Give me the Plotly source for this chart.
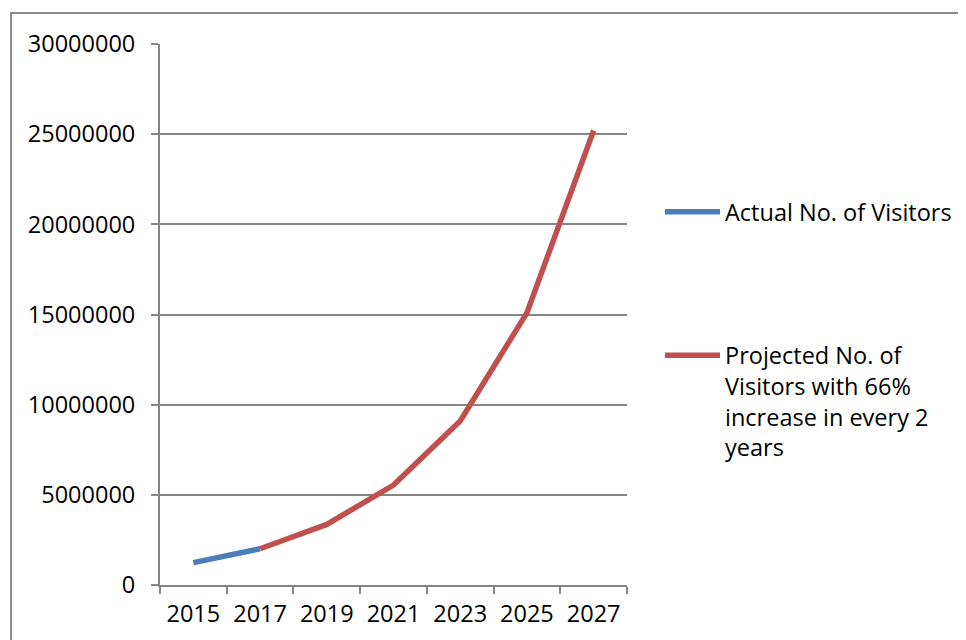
import plotly.graph_objects as go

years = ["2015", "2017", "2019", "2021", "2023", "2025", "2027"]
actual = [1240000, 2010000, None, None, None, None, None]
projected = [None, 2010000, 3360000, 5540000, 9100000, 15100000, 25200000]
y_ticks = [0, 5000000, 10000000, 15000000, 20000000, 25000000, 30000000]

name_actual = "Actual No. of Visitors"
name_proj = "Projected No. of<br>Visitors with 66%<br>increase in every 2<br>years"

W, H = 966, 640
OFF = 8  # page body margin
L, R, T, B = 160, 627, 44, 585  # plot area in screenshot pixels

def px_x(p):
    return (p - L) / (R - L)

def px_y(p):
    return (B - p) / (B - T)

fig = go.Figure()
fig.add_trace(go.Scatter(x=years, y=actual, name=name_actual, mode="lines",
                         line=dict(color="#4A7EBB", width=5.5), legendgroup="a"))
fig.add_trace(go.Scatter(x=years, y=projected, name=name_proj, mode="lines",
                         line=dict(color="#C0504D", width=5.5), legendgroup="b"))

font = dict(family="Open Sans, Liberation Sans, sans-serif", size=23.5, color="#000000")

fig.update_layout(
    width=W, height=H,
    margin=dict(l=L - OFF, r=W - (R - OFF), t=T - OFF, b=H - (B - OFF), pad=0),
    paper_bgcolor="white", plot_bgcolor="white",
    font=font,
    showlegend=True,
    legend=dict(x=px_x(660), y=px_y(190), xanchor="left", yanchor="top",
                valign="top", tracegroupgap=110, bgcolor="rgba(0,0,0,0)",
                font=font, itemwidth=55),
    xaxis=dict(type="category", range=[-0.5, 6.5], showline=True, linecolor="#868686",
               linewidth=2, ticks="outside", tickson="boundaries", ticklen=7,
               tickcolor="#868686", tickwidth=2, showgrid=False, zeroline=False,
               tickfont=font, ticklabelstandoff=7),
    yaxis=dict(range=[0, 30000000], tickvals=y_ticks, ticktext=[str(v) for v in y_ticks],
               showline=True, linecolor="#868686", linewidth=2, ticks="outside",
               ticklen=7, tickcolor="#868686", tickwidth=2, showgrid=True,
               gridcolor="#868686", gridwidth=2, zeroline=False, tickfont=font,
               ticklabelstandoff=11),
    shapes=[dict(type="rect", xref="paper", yref="paper",
                 x0=px_x(11), x1=px_x(1000), y0=px_y(700), y1=px_y(13),
                 line=dict(color="#8c8c8c", width=2), layer="below")],
)

fig.write_html("out.html")
